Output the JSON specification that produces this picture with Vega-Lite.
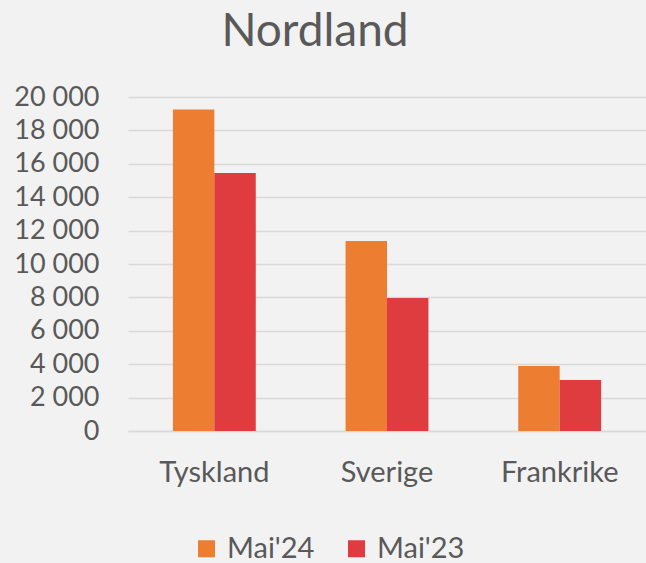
{
  "$schema": "https://vega.github.io/schema/vega-lite/v6.json",
  "width": 518,
  "height": 334,
  "autosize": {"type": "none"},
  "padding": {"left": 128, "top": 97, "right": 0, "bottom": 132},
  "background": "#F2F2F2",
  "title": {"text": "Nordland", "anchor": "middle", "dx": -72, "fontSize": 46, "font": "Lato", "fontWeight": "normal", "color": "#595959", "offset": 27},
  "data": {"values": [
    {"land": "Tyskland", "periode": "Mai'24", "antall": 19250},
    {"land": "Tyskland", "periode": "Mai'23", "antall": 15450},
    {"land": "Sverige", "periode": "Mai'24", "antall": 11380},
    {"land": "Sverige", "periode": "Mai'23", "antall": 7960},
    {"land": "Frankrike", "periode": "Mai'24", "antall": 3890},
    {"land": "Frankrike", "periode": "Mai'23", "antall": 3050}
  ]},
  "mark": {"type": "bar"},
  "encoding": {
    "x": {"field": "land", "type": "nominal", "sort": ["Tyskland", "Sverige", "Frankrike"],
      "scale": {"paddingInner": 0.52, "paddingOuter": 0.26},
      "axis": {"title": null, "labelAngle": 0, "ticks": false, "domainColor": "#D9D9D9", "domainWidth": 1.5, "labelPadding": 27, "labelFontSize": 29, "labelFont": "Lato", "labelColor": "#595959", "grid": false}},
    "xOffset": {"field": "periode", "sort": ["Mai'24", "Mai'23"], "scale": {"paddingInner": 0, "paddingOuter": 0}},
    "y": {"field": "antall", "type": "quantitative", "scale": {"domain": [0, 20000]},
      "axis": {"title": null, "values": [0,2000,4000,6000,8000,10000,12000,14000,16000,18000,20000], "labelExpr": "replace(format(datum.value, ','), ',', ' ')", "domain": false, "ticks": false, "labelPadding": 29, "labelFontSize": 27, "labelFont": "Lato", "labelColor": "#595959", "gridColor": "#D9D9D9", "gridWidth": 1.5}},
    "color": {"field": "periode", "type": "nominal", "sort": ["Mai'24", "Mai'23"],
      "scale": {"domain": ["Mai'24", "Mai'23"], "range": ["#ED7D31", "#DF3C40"]},
      "legend": {"title": null, "orient": "none", "direction": "horizontal", "legendX": 64, "legendY": 437, "symbolType": "square", "symbolSize": 289, "symbolStrokeWidth": 0, "labelFontSize": 29, "labelFont": "Lato", "labelColor": "#595959", "columnPadding": 27, "labelOffset": 6}}
  },
  "config": {"view": {"stroke": null}}
}
